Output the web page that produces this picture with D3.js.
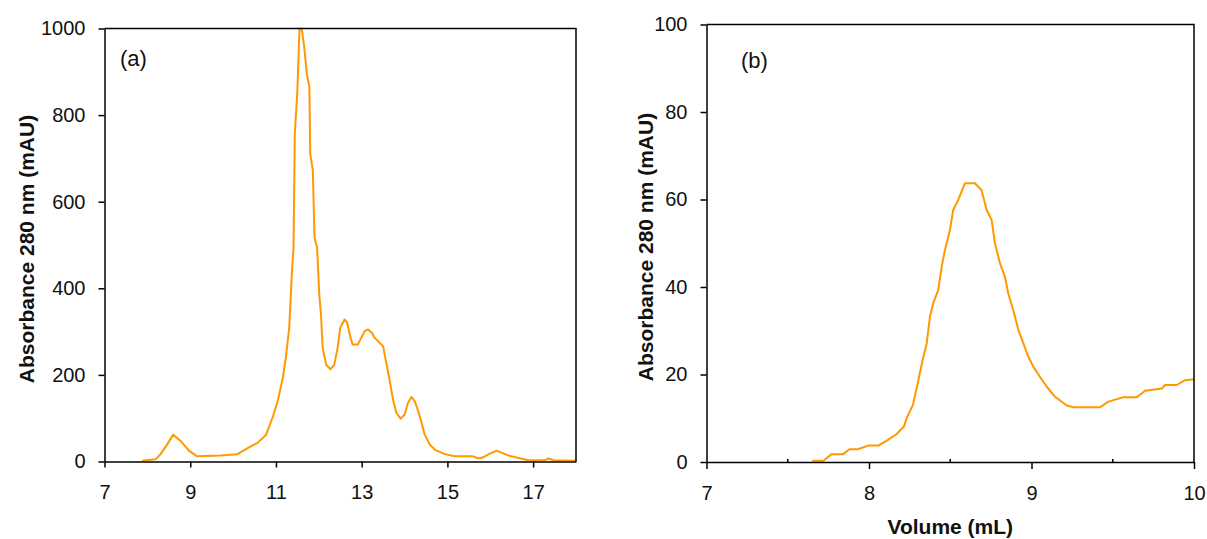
<!DOCTYPE html>
<html>
<head>
<meta charset="utf-8">
<script src="https://cdn.jsdelivr.net/npm/d3@7"></script>
<style>
  body { margin: 0; background: #fff; }
  svg text { font-family: "Liberation Sans", Arial, sans-serif; fill: #111; }
</style>
</head>
<body>
<svg id="chart" width="1207" height="539"></svg>
<script>
/* SEC chromatograms, two panels */

// panel (a): volume (mL) vs absorbance 280 nm (mAU)
const volA = [7.88, 8.19, 8.30, 8.46, 8.60, 8.77, 8.97, 9.16, 9.71, 10.10, 10.34, 10.57, 10.77, 10.92,
    11.04, 11.16, 11.23, 11.31, 11.37, 11.41, 11.44, 11.50, 11.55, 11.60, 11.66, 11.72, 11.78, 11.80,
    11.86, 11.90, 11.96, 12.01, 12.05, 12.09, 12.17, 12.27, 12.36, 12.44, 12.50, 12.60, 12.66, 12.74,
    12.79, 12.91, 12.99, 13.07, 13.15, 13.24, 13.30, 13.42, 13.50, 13.55, 13.65, 13.73, 13.81, 13.91,
    14.00, 14.08, 14.16, 14.24, 14.32, 14.40, 14.47, 14.59, 14.71, 14.94, 15.17, 15.60, 15.72, 15.84,
    15.99, 16.15, 16.27, 16.42, 16.66, 16.89, 17.28, 17.36, 17.48, 18.0];
const absA = [2, 5, 16, 39, 62, 48, 25, 12, 14, 17, 31, 43, 62, 101,
    139, 193, 240, 309, 433, 494, 757, 857, 1000, 1000, 957, 895, 865, 710,
    672, 517, 494, 386, 340, 263, 224, 213, 224, 263, 309, 328, 321, 286,
    270, 270, 286, 301, 305, 297, 286, 274, 266, 240, 189, 143, 112, 99,
    108, 135, 149, 139, 116, 89, 62, 39, 27, 17, 12, 12, 7, 10,
    18, 25, 20, 14, 8, 3, 3, 7, 3, 2];

// panel (b)
const volB = [7.65, 7.72, 7.77, 7.84, 7.88, 7.93, 8.00, 8.06, 8.11, 8.17, 8.215, 8.235, 8.27, 8.30,
    8.33, 8.355, 8.375, 8.395, 8.426, 8.447, 8.467, 8.498, 8.518, 8.549, 8.59, 8.652, 8.693, 8.724,
    8.755, 8.775, 8.806, 8.837, 8.857, 8.888, 8.919, 8.95, 8.98, 9.011, 9.052, 9.094, 9.145, 9.217,
    9.258, 9.42, 9.473, 9.565, 9.648, 9.699, 9.802, 9.822, 9.894, 9.945, 10.0];
const absB = [0.3, 0.3, 1.8, 1.8, 2.9, 2.9, 3.8, 3.8, 4.9, 6.4, 8.1, 10.3, 13, 18,
    23.3, 27.1, 33.2, 36.3, 39.3, 44.6, 48.4, 53, 57.6, 59.9, 63.7, 63.7, 62.1, 57.6,
    55.3, 50, 45.4, 42.3, 38.5, 34.7, 30.2, 27.1, 24.1, 21.8, 19.5, 17.2, 14.9, 12.9,
    12.5, 12.5, 13.8, 14.8, 14.8, 16.3, 16.8, 17.6, 17.6, 18.7, 18.9];

const xTicksA = [7, 9, 11, 13, 15, 17];
const yTicksA = [0, 200, 400, 600, 800, 1000];
const xTicksB = [7, 8, 9, 10];
const xMinorB = [7.5, 8.5, 9.5];
const yTicksB = [0, 20, 40, 60, 80, 100];

const Y_TITLE = 'Absorbance 280 nm (mAU)';
const X_TITLE = 'Volume (mL)';
const LINE_COLOR = '#ff9900';

const svg = d3.select('#chart');
const fmt = d3.format('d');

function drawPanel(p) {
    const x = d3.scaleLinear().domain(p.xDomain).range([p.left, p.right]);
    const y = d3.scaleLinear().domain(p.yDomain).range([p.bottom, p.top]);

    const g = svg.append('g');

    // clip so the saturated peak stays inside the frame
    const clipId = 'clip-' + p.name;
    svg.append('defs').append('clipPath').attr('id', clipId)
        .append('rect')
        .attr('x', p.left).attr('y', p.top - 1)
        .attr('width', p.right - p.left).attr('height', p.bottom - p.top + 1);

    const pts = p.xs.map((v, i) => [v, p.ys[i]]);
    g.append('path')
        .datum(pts)
        .attr('clip-path', `url(#${clipId})`)
        .attr('fill', 'none')
        .attr('stroke', LINE_COLOR)
        .attr('stroke-width', 2)
        .attr('stroke-linejoin', 'round')
        .attr('d', d3.line().x(d => x(d[0])).y(d => y(d[1])));

    // frame (top + right)
    g.append('path')
        .attr('d', `M${p.left},${p.top}H${p.right}V${p.bottom}`)
        .attr('fill', 'none')
        .attr('stroke', '#000')
        .attr('stroke-width', 1.5);

    const yAxis = g.append('g')
        .attr('transform', `translate(${p.left},0)`)
        .call(d3.axisLeft(y).tickValues(p.yTicks).tickFormat(fmt)
            .tickSize(6).tickPadding(13).tickSizeOuter(0));

    const xAxis = g.append('g')
        .attr('transform', `translate(0,${p.bottom})`)
        .call(d3.axisBottom(x).tickValues(p.xTicks).tickFormat(fmt)
            .tickSize(p.xTickLen).tickPadding(p.xPad).tickSizeOuter(0));

    [xAxis, yAxis].forEach(a => {
        a.select('.domain').attr('stroke', '#000').attr('stroke-width', 1.5);
        a.selectAll('.tick line').attr('stroke', '#000').attr('stroke-width', 1.5);
        a.selectAll('.tick text').attr('font-size', 20).attr('fill', '#111')
            .attr('font-family', '"Liberation Sans", Arial, sans-serif');
    });

    if (p.minor) {
        g.selectAll('.minor')
            .data(p.minor)
            .join('line')
            .attr('class', 'minor')
            .attr('x1', d => x(d)).attr('x2', d => x(d))
            .attr('y1', p.bottom).attr('y2', p.bottom - 3)
            .attr('stroke', '#000')
            .attr('stroke-width', 1.5);
    }

    // panel letter
    g.append('text')
        .attr('x', p.tagX)
        .attr('y', p.tagY)
        .attr('font-size', 22)
        .text(p.tag);

    // y title
    g.append('text')
        .attr('transform', `translate(${p.yTitleX},${p.yTitleY}) rotate(-90)`)
        .attr('text-anchor', 'middle')
        .attr('font-size', 21)
        .attr('font-weight', 'bold')
        .text(Y_TITLE);

    if (p.xTitle) {
        g.append('text')
            .attr('x', (p.left + p.right) / 2)
            .attr('y', p.xTitleY)
            .attr('text-anchor', 'middle')
            .attr('font-size', 21)
            .attr('font-weight', 'bold')
            .text(p.xTitle);
    }
}

drawPanel({
    name: 'a', xs: volA, ys: absA,
    xDomain: [7, 18], yDomain: [0, 1000],
    left: 104.5, right: 576, top: 28.5, bottom: 461.5,
    xTicks: xTicksA, yTicks: yTicksA, xTickLen: 6, xPad: 17,
    tag: '(a)', tagX: 120, tagY: 66,
    yTitleX: 34, yTitleY: 249
});

drawPanel({
    name: 'b', xs: volB, ys: absB,
    xDomain: [7, 10], yDomain: [0, 100],
    left: 706.5, right: 1194, top: 24.5, bottom: 462,
    xTicks: xTicksB, yTicks: yTicksB, xTickLen: 7, xPad: 17,
    minor: xMinorB,
    tag: '(b)', tagX: 741, tagY: 68,
    yTitleX: 653, yTitleY: 247,
    xTitle: X_TITLE, xTitleY: 534
});
</script>
</body>
</html>
